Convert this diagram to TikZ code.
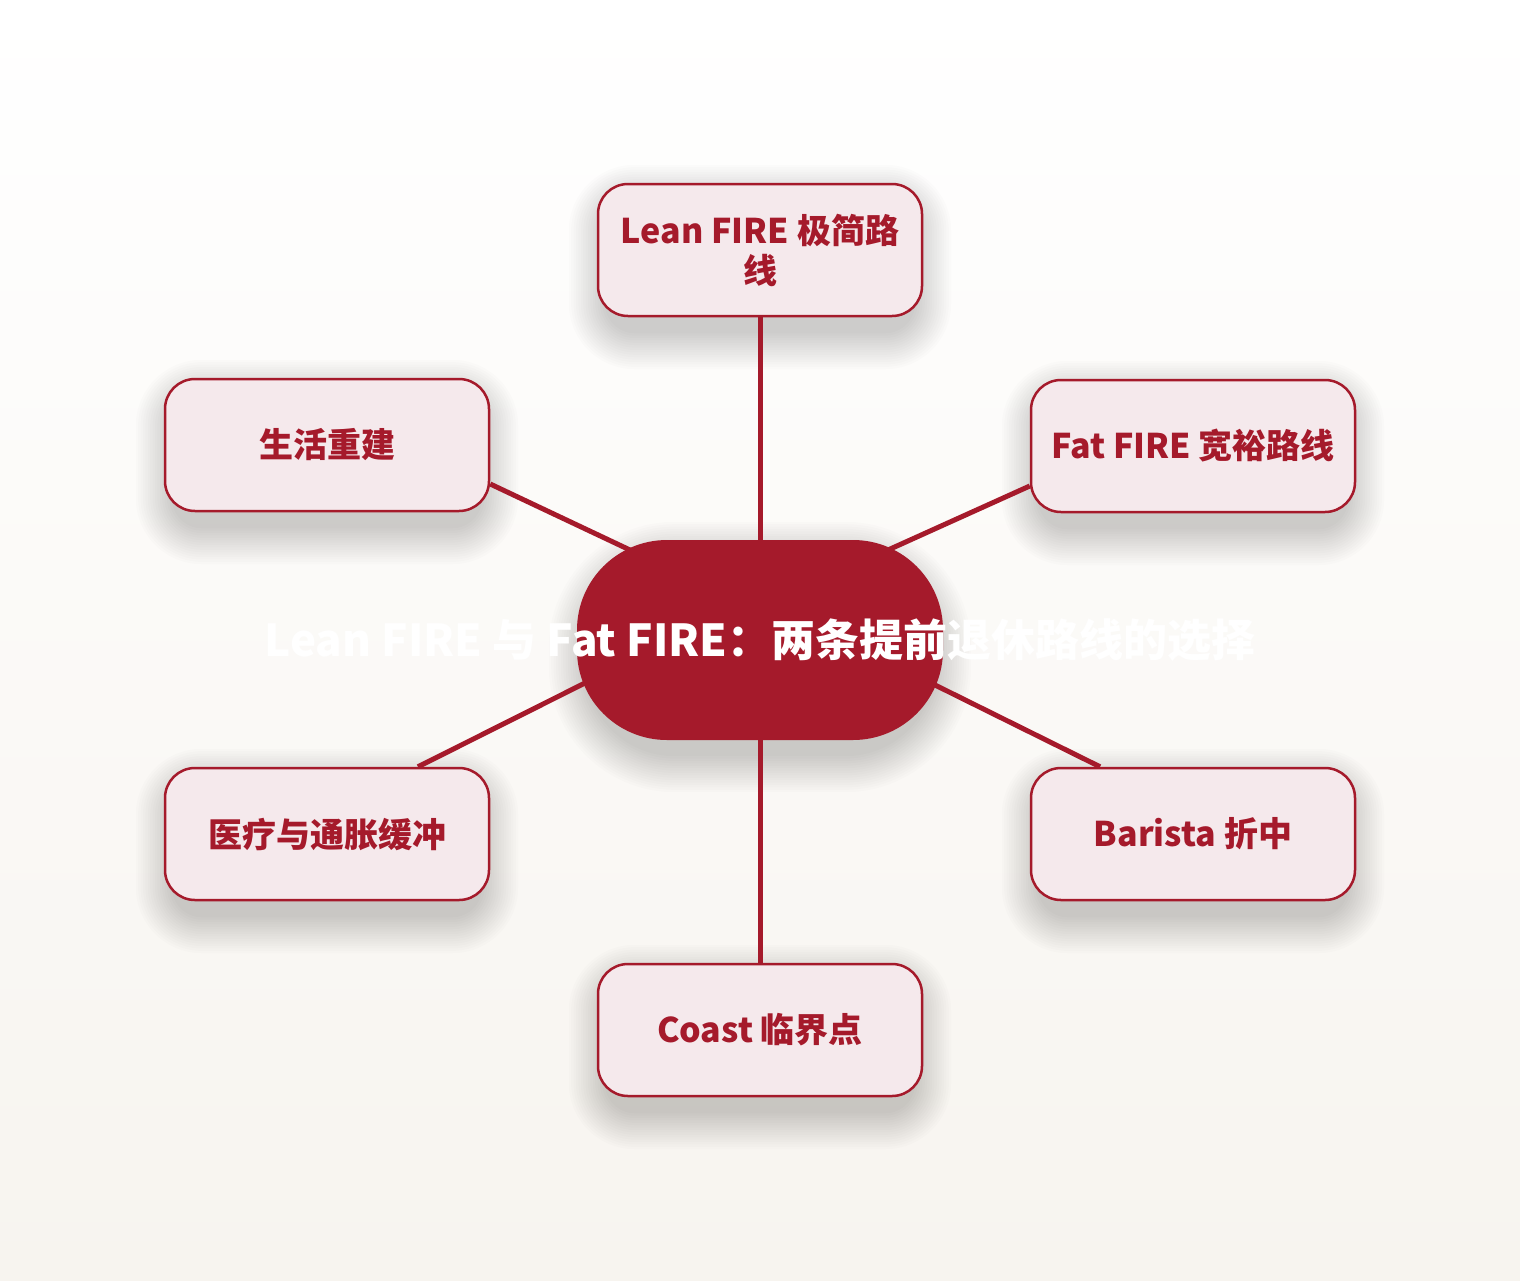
\documentclass[tikz,border=0pt]{standalone}
\usepackage{fontspec}
\setmainfont{Noto Sans CJK SC}
\usetikzlibrary{calc}
\definecolor{mred}{HTML}{A51A2B}
\definecolor{mpink}{HTML}{F5E9EC}
\definecolor{bgtop}{HTML}{FFFFFF}
\definecolor{bgbot}{HTML}{F7F4EF}
\pgfdeclarelayer{bglayer}
\pgfdeclarelayer{shadowlayer}
\pgfdeclarelayer{linklayer}
\pgfsetlayers{bglayer,shadowlayer,linklayer,main}
\newcommand{\mysoftshadow}[2]{%
  \begin{pgfonlayer}{shadowlayer}
  \foreach \k in {0,...,15}{
    \fill[black, opacity=0.012, rounded corners=#2+\k*2.4]
      ($(#1.north west)+(-\k*2.4+8,-\k*2.4+18)$) rectangle ($(#1.south east)+(\k*2.4-8,\k*2.4+16)$);
  }
  \end{pgfonlayer}}
\begin{document}
\begin{tikzpicture}[x=1pt,y=-1pt,
  leaf/.style={draw=mred, line width=2.5pt, fill=mpink, rounded corners=30pt,
    minimum width=324pt, minimum height=132pt, inner sep=0pt, text=mred,
    font=\fontsize{34}{40}\selectfont\bfseries, align=center},
  hub/.style={fill=mred, rounded corners=90pt, minimum width=366pt, minimum height=200pt,
    inner sep=0pt},
  titletext/.style={text=white, font=\fontsize{44}{50}\selectfont\bfseries, inner sep=0pt},
  link/.style={draw=mred, line width=5pt, shorten >=-12pt}]
\begin{pgfonlayer}{bglayer}
\path[use as bounding box, top color=bgtop, bottom color=bgbot] (0,0) rectangle (1520,1280);
\end{pgfonlayer}
\node[leaf] (t) at (760,250) {Lean FIRE 极简路\\线};
\node[leaf] (lt) at (327,445) {生活重建};
\node[leaf] (rt) at (1193,446) {Fat FIRE 宽裕路线};
\node[leaf] (lb) at (327,834) {医疗与通胀缓冲};
\node[leaf] (rb) at (1193,834) {Barista 折中};
\node[leaf] (b) at (760,1030) {Coast 临界点};
\node[hub] (c) at (760,640) {};
\node[titletext] (title) at (c.center) {Lean FIRE 与 Fat FIRE：两条提前退休路线的选择};
\mysoftshadow{t}{30}
\mysoftshadow{lt}{30}
\mysoftshadow{rt}{30}
\mysoftshadow{lb}{30}
\mysoftshadow{rb}{30}
\mysoftshadow{b}{30}
\mysoftshadow{c}{90}
\begin{pgfonlayer}{linklayer}
\draw[link] (t.south) -- (c.north);
\draw[link] (b.north) -- (c.south);
\draw[link] ($(lt.east)+(0,39)$) -- ($(c.center)+(-130,-90)$);
\draw[link] ($(rt.west)+(0,40)$) -- ($(c.center)+(128,-90)$);
\draw[link] ($(lb.north)+(91,0)$) -- ($(c.center)+(-175,43)$);
\draw[link] ($(rb.north)+(-93,0)$) -- ($(c.center)+(175,45)$);
\end{pgfonlayer}
\end{tikzpicture}
\end{document}
